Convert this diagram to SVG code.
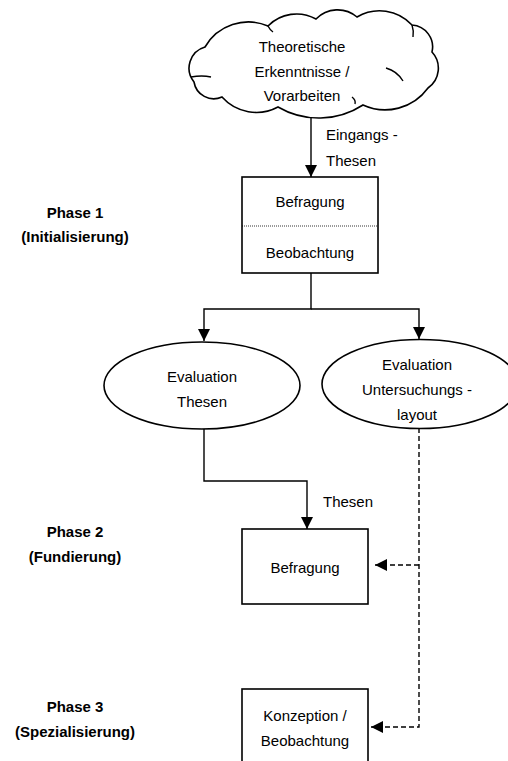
<svg xmlns="http://www.w3.org/2000/svg" width="508" height="761" viewBox="0 0 508 761">
<defs>
<marker id="ah" markerWidth="12" markerHeight="12" refX="12" refY="6" orient="auto" markerUnits="userSpaceOnUse">
<path d="M0,0 L12,6 L0,12 Z" fill="#000"/>
</marker>
<style>
.t{font-family:"Liberation Sans",Arial,sans-serif;font-size:15px;fill:#000;text-anchor:middle}
.l{font-family:"Liberation Sans",Arial,sans-serif;font-size:15px;fill:#000;text-anchor:start}
.p{font-family:"Liberation Sans",Arial,sans-serif;font-size:15px;font-weight:bold;fill:#000;text-anchor:middle}
.s{fill:#fff;stroke:#000;stroke-width:1.6}
.c{fill:none;stroke:#000;stroke-width:1.4}
.d{fill:none;stroke:#000;stroke-width:1.4;stroke-dasharray:5,3}
</style>
</defs>
<rect width="508" height="761" fill="#fff"/>
<g id="phases">
<text class="p" x="75" y="218">Phase 1</text>
<text class="p" x="75" y="242">(Initialisierung)</text>
<text class="p" x="75" y="537">Phase 2</text>
<text class="p" x="75" y="562">(Fundierung)</text>
<text class="p" x="75" y="712">Phase 3</text>
<text class="p" x="75" y="737">(Spezialisierung)</text>
</g>
<g id="connectors">
<path class="c" d="M311,117 V177" marker-end="url(#ah)"/>
<path class="c" d="M311,273 V309 H204 V341" marker-end="url(#ah)"/>
<path class="c" d="M311,309 H419 V339" marker-end="url(#ah)"/>
<path class="c" d="M204,429 V481 H307 V529" marker-end="url(#ah)"/>
<path class="d" d="M419,428 V727 H371" marker-end="url(#ah)"/>
<path class="d" d="M419,565 H375" marker-end="url(#ah)"/>
<text class="l" x="326" y="140">Eingangs -</text>
<text class="l" x="326" y="166">Thesen</text>
<text class="l" x="323" y="507">Thesen</text>
</g>
<g id="cloud">
<path class="s" d="M205,47 A50,50 0 0 1 268,26 A40,40 0 0 1 316,19 A30,30 0 0 1 357,17 A44,44 0 0 1 412,25 A22,22 0 0 1 432,52 A24,24 0 0 1 428,88 A53,53 0 0 1 363,105 A81,81 0 0 1 278,107 A46,46 0 0 1 222,97 A20,20 0 0 1 194,82 A22,22 0 0 1 205,47 Z"/>
<path class="c" d="M386,68 Q397,71 403,81"/>
<path class="c" d="M191,77 Q202,75 211,77"/>
<path class="c" d="M352,97 Q356,100 355,104"/>
<path class="c" d="M268,26 Q270,30 273,32"/>
<path class="c" d="M412,25 Q414,31 413,37"/>
<text class="t" x="302" y="52">Theoretische</text>
<text class="t" x="302" y="77">Erkenntnisse /</text>
<text class="t" x="302" y="101">Vorarbeiten</text>
</g>
<g id="box1">
<rect class="s" x="242" y="177" width="136" height="96"/>
<line x1="242" y1="226" x2="378" y2="226" stroke="#000" stroke-width="0.8" stroke-dasharray="1,1"/>
<text class="t" x="310" y="207">Befragung</text>
<text class="t" x="310" y="258">Beobachtung</text>
</g>
<g id="eval1">
<ellipse class="s" cx="202" cy="385.5" rx="98" ry="43.5"/>
<text class="t" x="202" y="382">Evaluation</text>
<text class="t" x="202" y="407">Thesen</text>
</g>
<g id="eval2">
<ellipse class="s" cx="420" cy="384" rx="98" ry="44.5"/>
<text class="t" x="417" y="370">Evaluation</text>
<text class="t" x="417" y="395">Untersuchungs -</text>
<text class="t" x="417" y="420">layout</text>
</g>
<g id="box2">
<rect class="s" x="242" y="529" width="126" height="75"/>
<text class="t" x="305" y="573">Befragung</text>
</g>
<g id="box3">
<rect class="s" x="242" y="689" width="126" height="80"/>
<text class="t" x="305" y="721">Konzeption /</text>
<text class="t" x="305" y="746">Beobachtung</text>
</g>
</svg>
